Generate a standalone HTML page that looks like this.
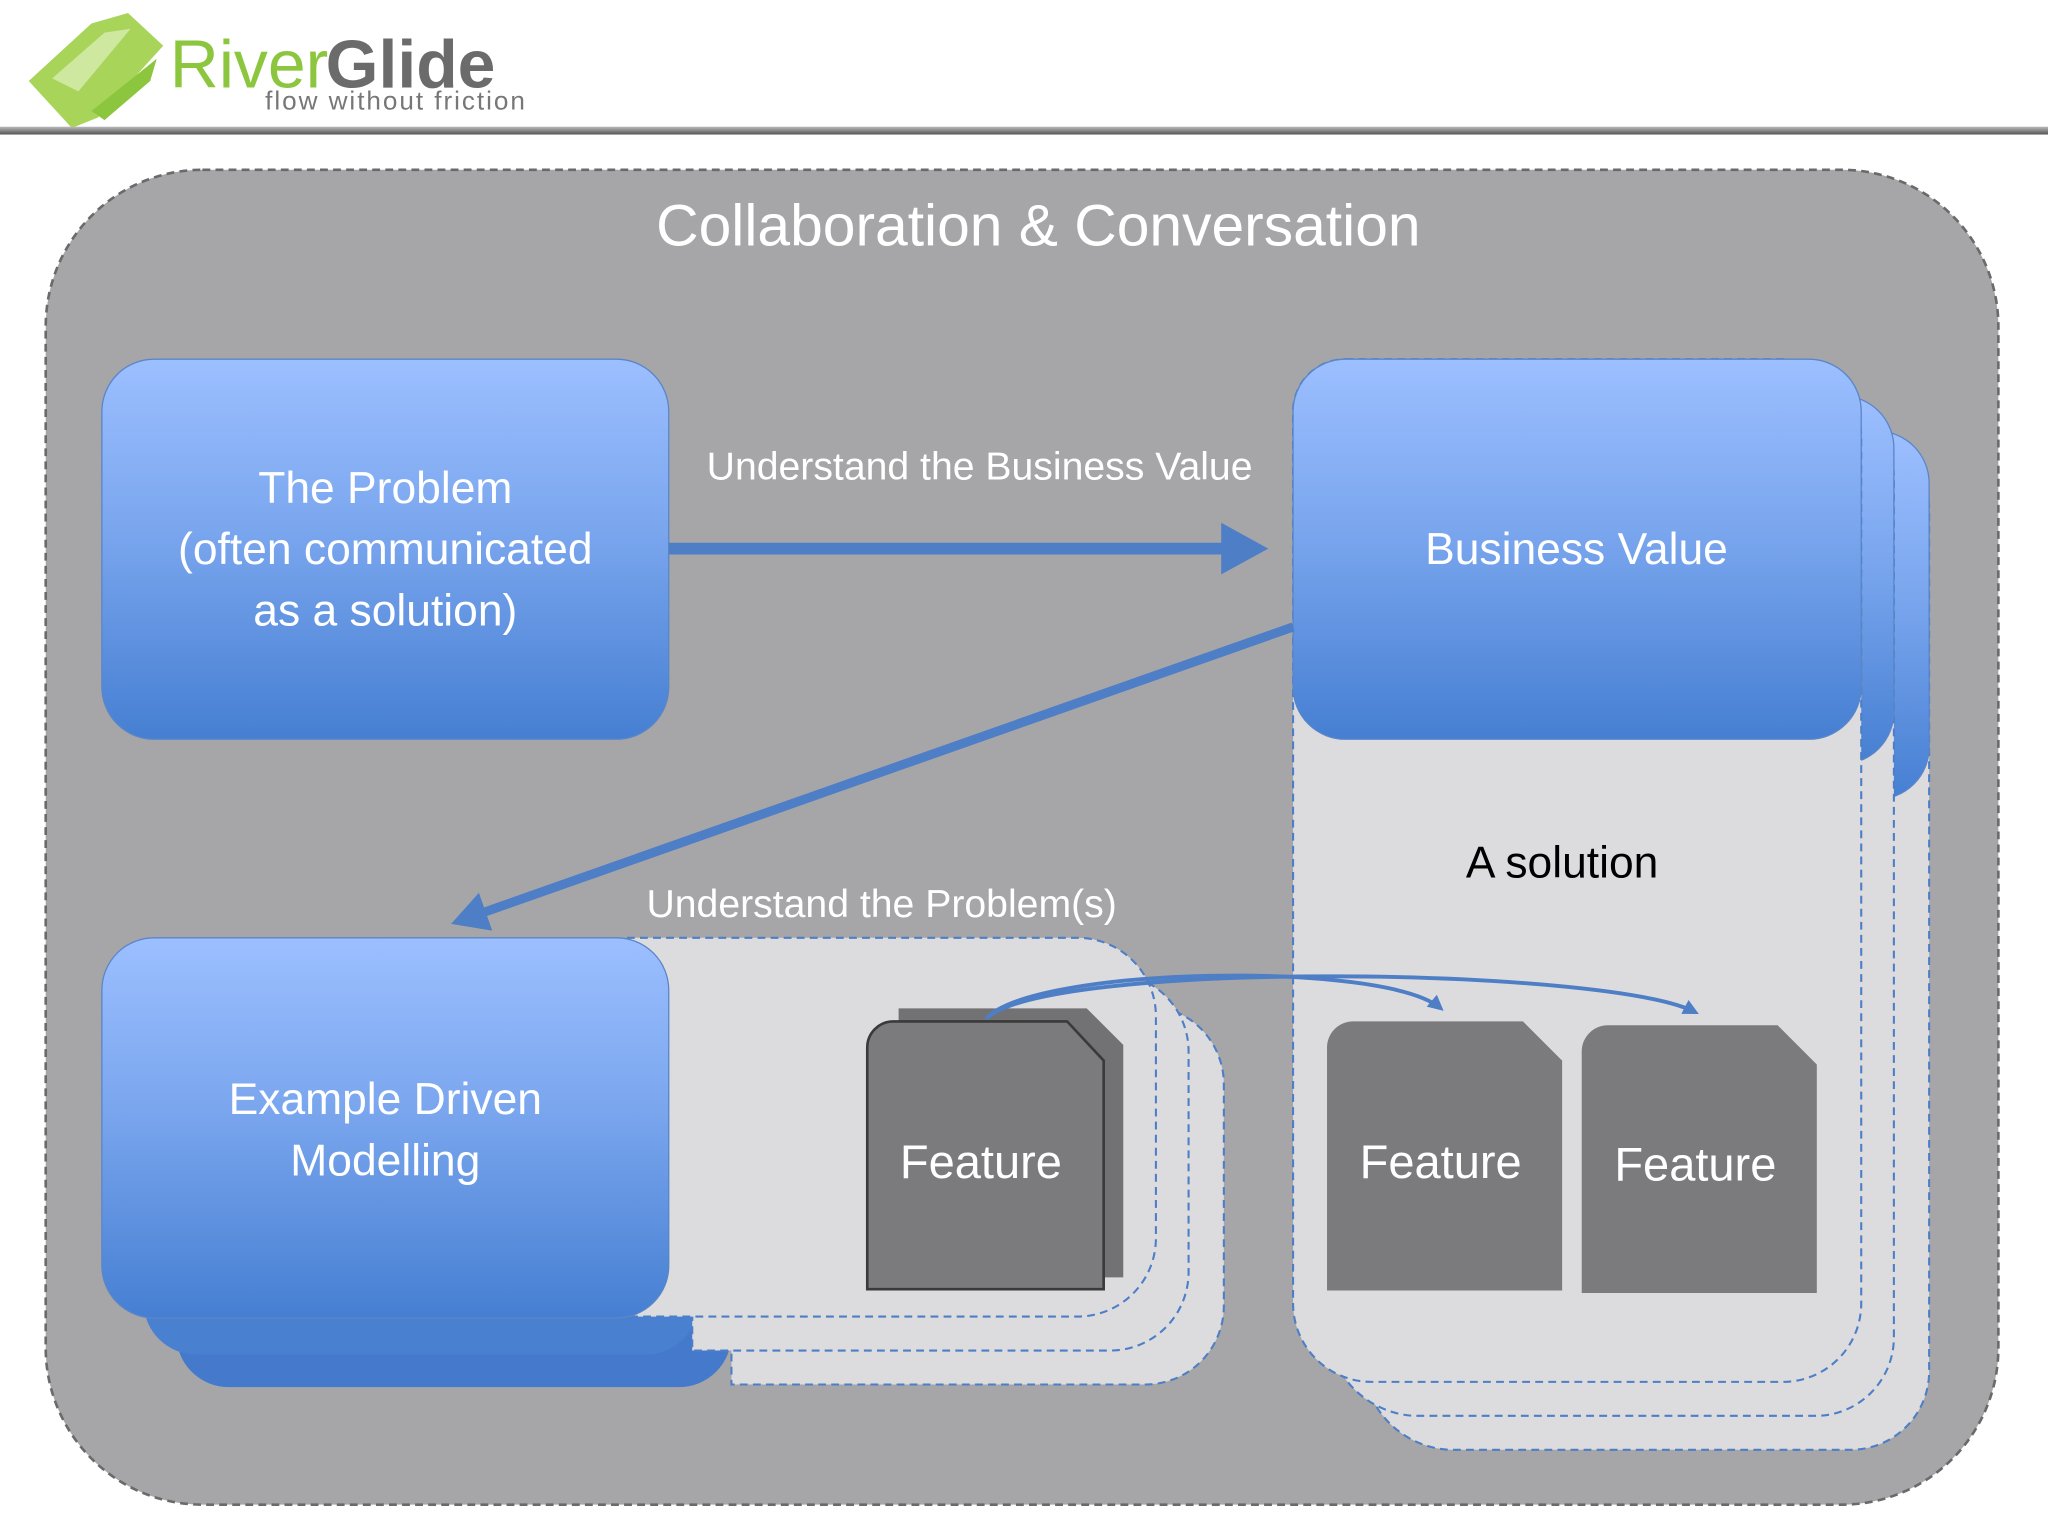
<!DOCTYPE html>
<html><head><meta charset="utf-8"><style>html,body{margin:0;padding:0;background:#fff;width:2048px;height:1536px;overflow:hidden}</style></head>
<body>
<svg width="2048" height="1536" viewBox="0 0 1568 1176" xmlns="http://www.w3.org/2000/svg" font-family="'Liberation Sans', sans-serif">
<defs>
<linearGradient id="bl" x1="0" y1="0" x2="0" y2="1"><stop offset="0" stop-color="#9cbfff"/><stop offset="0.45" stop-color="#7aa6ee"/><stop offset="1" stop-color="#467fd2"/></linearGradient>
<linearGradient id="hl" x1="0" y1="0" x2="0" y2="1"><stop offset="0" stop-color="#bbb"/><stop offset="1" stop-color="#555"/></linearGradient>
<marker id="ah" markerWidth="5" markerHeight="5" refX="3" refY="2.2" orient="auto" markerUnits="strokeWidth"><path d="M0,0 L4,2.2 L0,4.4 Z" fill="#4d7ec6"/></marker>
<marker id="ah2" markerWidth="6" markerHeight="6" refX="3" refY="2" orient="auto" markerUnits="strokeWidth"><path d="M0,0 L4,2 L0,4 Z" fill="#4d7ec6"/></marker>
</defs>
<!-- header -->
<path d="M22,62 L70,18 L98,10 L125,35 L75,90 L55,98 Z" fill="#a8d45a"/>
<path d="M40,60 L80,25 L100,22 L60,70 Z" fill="#d8ecb0" opacity="0.8"/>
<path d="M70,85 L120,45 L115,62 L80,92 Z" fill="#8cc63f"/>
<text x="130" y="67" font-size="52" fill="#8cc63f">River<tspan font-weight="bold" fill="#6b6b6b" dx="-2">Glide</tspan></text>
<text x="203" y="84" font-size="20" fill="#777" letter-spacing="1.5">flow without friction</text>
<rect x="0" y="97" width="1568" height="6" fill="url(#hl)"/>
<!-- big panel -->
<rect x="35" y="130" width="1495" height="1022" rx="120" fill="#a6a6a8" stroke="#6a6a6a" stroke-width="2" stroke-dasharray="6,4"/>
<text x="795" y="188" font-size="45" fill="#fff" text-anchor="middle">Collaboration &amp; Conversation</text>
<!-- right solution stack -->
<g stroke="#4d7ec6" stroke-width="1.6" stroke-dasharray="6,4" fill="#dcdcde">
<path d="M1084,330 H1417 a60,60 0 0 1 60,60 V1050 a60,60 0 0 1 -60,60 H1110 a70,70 0 0 1 -66,-60 V370 a40,40 0 0 1 40,-40 Z"/>
</g>
<rect x="1030" y="330" width="447" height="282" rx="40" fill="url(#bl)" stroke="#5a86c8"/>
<g stroke="#4d7ec6" stroke-width="1.6" stroke-dasharray="6,4" fill="#dcdcde">
<path d="M1057,305 H1390 a60,60 0 0 1 60,60 V1024 a60,60 0 0 1 -60,60 H1083 a70,70 0 0 1 -66,-60 V345 a40,40 0 0 1 40,-40 Z"/>
</g>
<rect x="1005" y="303" width="445" height="282" rx="40" fill="url(#bl)" stroke="#5a86c8"/>
<g stroke="#4d7ec6" stroke-width="1.6" stroke-dasharray="6,4" fill="#dcdcde">
<path d="M1030,275 H1365 a60,60 0 0 1 60,60 V998 a60,60 0 0 1 -60,60 H1050 a60,60 0 0 1 -60,-60 V315 a40,40 0 0 1 40,-40 Z"/>
</g>
<rect x="990" y="275" width="435" height="291" rx="40" fill="url(#bl)" stroke="#5a86c8"/>
<text x="1207" y="432" font-size="34" fill="#fff" text-anchor="middle">Business Value</text>
<text x="1196" y="672" font-size="34" fill="#000" text-anchor="middle">A solution</text>
<!-- left EDM stack -->
<rect x="135" y="770" width="425" height="292" rx="40" fill="#4479cb"/>
<g stroke="#4d7ec6" stroke-width="1.6" stroke-dasharray="6,4" fill="#dcdcde">
<path d="M560,770 H877 a60,60 0 0 1 60,60 V1000 a60,60 0 0 1 -60,60 H560 Z"/>
</g>
<rect x="110" y="745" width="425" height="292" rx="40" fill="#4a80d0"/>
<g stroke="#4d7ec6" stroke-width="1.6" stroke-dasharray="6,4" fill="#dcdcde">
<path d="M530,745 H850 a60,60 0 0 1 60,60 V974 a60,60 0 0 1 -60,60 H530 Z"/>
<path d="M480,718 H825 a60,60 0 0 1 60,60 V948 a60,60 0 0 1 -60,60 H480 Z"/>
</g>
<rect x="78" y="718" width="434" height="291" rx="40" fill="url(#bl)" stroke="#5a86c8"/>
<text x="295" y="853" font-size="34" fill="#fff" text-anchor="middle">Example Driven</text>
<text x="295" y="900" font-size="34" fill="#fff" text-anchor="middle">Modelling</text>
<!-- problem box -->
<rect x="78" y="275" width="434" height="291" rx="40" fill="url(#bl)" stroke="#5a86c8"/>
<text x="295" y="385" font-size="34" fill="#fff" text-anchor="middle">The Problem</text>
<text x="295" y="432" font-size="34" fill="#fff" text-anchor="middle">(often communicated</text>
<text x="295" y="479" font-size="34" fill="#fff" text-anchor="middle">as a solution)</text>
<!-- arrows -->
<line x1="512" y1="420" x2="962" y2="420" stroke="#4d7ec6" stroke-width="9" marker-end="url(#ah)"/>
<text x="750" y="367" font-size="30" fill="#fff" text-anchor="middle">Understand the Business Value</text>
<line x1="990" y1="480" x2="352" y2="705" stroke="#4d7ec6" stroke-width="7" marker-end="url(#ah)"/>
<text x="675" y="702" font-size="30" fill="#fff" text-anchor="middle">Understand the Problem(s)</text>
<!-- features -->
<path d="M688,772 H832 L860,800 V978 H688 Z" fill="#727274"/>
<path d="M684,782 H817 L845,812 V987 H664 V802 a20,20 0 0 1 20,-20 Z" fill="#7b7a7d" stroke="#3a3a3a" stroke-width="2"/>
<text x="751" y="902" font-size="36" fill="#fff" text-anchor="middle">Feature</text>
<path d="M1036,782 H1166 L1196,812 V988 H1016 V802 a20,20 0 0 1 20,-20 Z" fill="#7b7a7d"/>
<text x="1103" y="902" font-size="36" fill="#fff" text-anchor="middle">Feature</text>
<path d="M1231,785 H1361 L1391,815 V990 H1211 V805 a20,20 0 0 1 20,-20 Z" fill="#7b7a7d"/>
<text x="1298" y="904" font-size="36" fill="#fff" text-anchor="middle">Feature</text>
<path d="M755,780 C790,740 1060,735 1103,772" fill="none" stroke="#4d7ec6" stroke-width="3" marker-end="url(#ah2)"/>
<path d="M755,780 C800,735 1230,740 1298,775" fill="none" stroke="#4d7ec6" stroke-width="3" marker-end="url(#ah2)"/>
</svg>
</body></html>
